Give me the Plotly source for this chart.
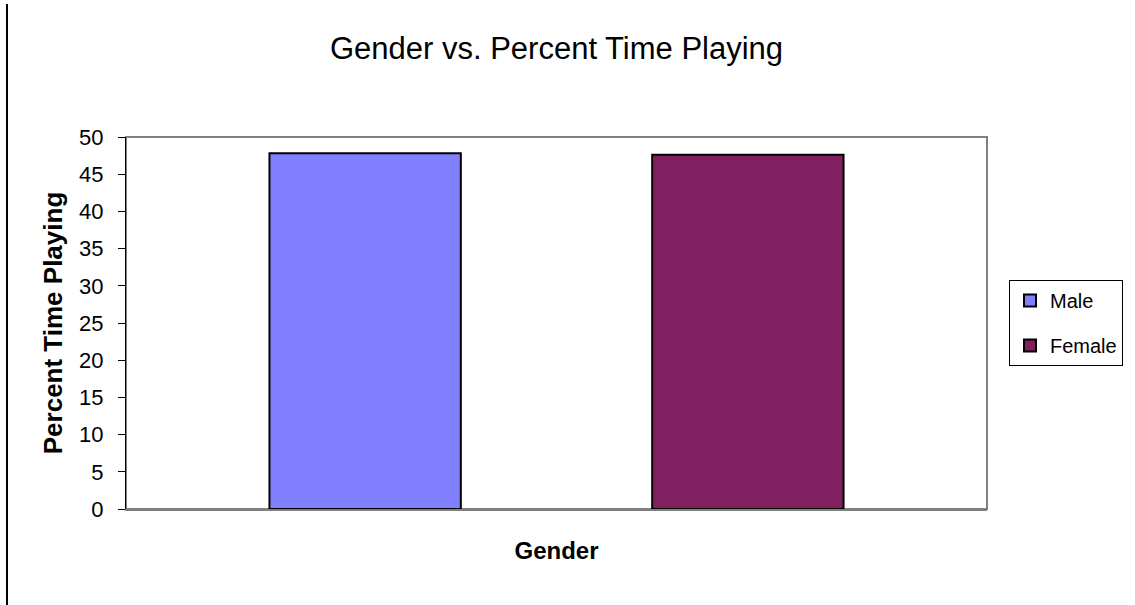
import plotly.graph_objects as go

# Chart data
category = ["Gender"]
series_names = ["Male", "Female"]
series_values = [[47.8], [47.6]]
series_colors = ["#8080FF", "#802060"]
y_tick_values = [0, 5, 10, 15, 20, 25, 30, 35, 40, 45, 50]

FONT = "Liberation Sans, Arial, sans-serif"
W, H = 1135, 605
M_L, M_R, M_T, M_B = 126, 148, 137, 96
plot_w = W - M_L - M_R
plot_h = H - M_T - M_B

fig = go.Figure()
for name, vals, color in zip(series_names, series_values, series_colors):
    fig.add_trace(go.Bar(
        x=category, y=vals, name=name, legendgroup=name,
        marker=dict(color=color, line=dict(color="black", width=2)),
    ))

fig.update_layout(
    width=W, height=H,
    margin=dict(l=M_L, r=M_R, t=M_T, b=M_B, autoexpand=False),
    paper_bgcolor="white", plot_bgcolor="white",
    font=dict(family=FONT, color="black"),
    barmode="group", bargap=0.111, bargroupgap=0.5,
    title=dict(text="Gender vs. Percent Time Playing", x=(M_L + plot_w / 2) / W,
               xanchor="center", y=1 - 48 / H, yanchor="middle",
               yref="container", xref="container",
               font=dict(size=31, family=FONT, color="black")),
    legend=dict(xref="container", yref="container", x=1009 / W, y=1 - 280 / H,
                xanchor="left", yanchor="top", bordercolor="black", borderwidth=1,
                bgcolor="white", font=dict(size=20, family=FONT, color="black"),
                traceorder="grouped", tracegroupgap=16),
    xaxis=dict(showticklabels=False, ticks="", showgrid=False, zeroline=False,
               showline=True, linecolor="#808080", linewidth=2,
               title=dict(text="<b>Gender</b>", font=dict(size=24, family=FONT), standoff=32)),
    yaxis=dict(range=[0, 50], tickvals=y_tick_values, ticks="outside", ticklen=7,
               tickcolor="black", tickwidth=1, showgrid=False, zeroline=False,
               showline=True, linecolor="black", linewidth=1,
               tickfont=dict(size=22, family=FONT), ticklabelstandoff=10,
               title=dict(text="<b>Percent Time Playing</b>", font=dict(size=26, family=FONT),
                          standoff=9)),
)

# Gray frame around the plotting area
fig.add_shape(type="rect", xref="paper", yref="paper", x0=0, x1=1, y0=0, y1=1,
              line=dict(color="#808080", width=2), layer="below")

# Vertical rule along the left edge of the figure
fig.add_shape(type="line", xref="paper", yref="paper",
              x0=(7 - M_L) / plot_w, x1=(7 - M_L) / plot_w,
              y0=-(M_B) / plot_h, y1=1 + (M_T - 4) / plot_h,
              line=dict(color="black", width=2))

fig.write_html("out.html")
